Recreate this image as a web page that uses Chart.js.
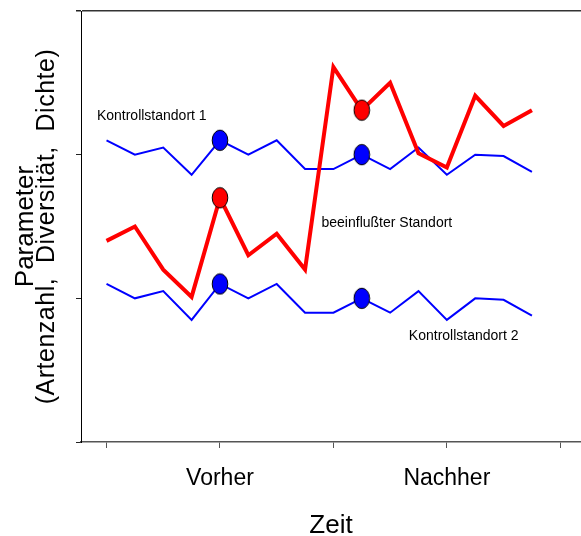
<!DOCTYPE html>
<html>
<head>
<meta charset="utf-8">
<script src="https://cdn.jsdelivr.net/npm/chart.js@4.4.1/dist/chart.umd.min.js"></script>
<style>
    body { margin: 0; background: #fff; }
    #wrap { width: 581px; height: 536px; position: relative; }
</style>
</head>
<body>
<div id="wrap"><canvas id="zeitChart"></canvas></div>
<script>
// Probenahmezeitpunkte (x) und Messwerte je Standort
const samples = [0, 1, 2, 3, 4, 5, 6, 7, 8, 9, 10, 11, 12, 13, 14, 15];
const kontroll1 = [2.10, 2.00, 2.05, 1.86, 2.10, 2.00, 2.10, 1.90, 1.90, 2.00, 1.90, 2.05, 1.86, 2.00, 1.99, 1.88];
const kontroll2 = [1.10, 1.00, 1.05, 0.85, 1.10, 1.00, 1.10, 0.90, 0.90, 1.00, 0.90, 1.05, 0.85, 1.00, 0.99, 0.88];
const beeinflusst = [1.40, 1.50, 1.20, 1.01, 1.70, 1.30, 1.45, 1.20, 2.61, 2.31, 2.50, 2.01, 1.91, 2.41, 2.20, 2.31];
const markerIndex = [4, 9];

const tickPositions = [0, 4, 8, 12, 16];
const tickLabels = ['', 'Vorher', '', 'Nachher', ''];

// Beschriftungen der Linien (in Datenkoordinaten: linker Rand, Mitte)
const lineLabels = [
    { text: 'Kontrollstandort 1', x: -0.34, y: 2.27 },
    { text: 'beeinflußter Standort', x: 7.58, y: 1.52 },
    { text: 'Kontrollstandort 2', x: 10.66, y: 0.74 }
];

const FONT = '"Liberation Sans", Arial, sans-serif';

function toPoints(values) {
    return samples.map((s, i) => ({ x: s, y: values[i] }));
}

// ellipse marker as a small canvas
function makeMarker(fill) {
    const c = document.createElement('canvas');
    c.width = 18;
    c.height = 23;
    const g = c.getContext('2d');
    g.beginPath();
    g.ellipse(9, 11.5, 7.8, 10.2, 0, 0, Math.PI * 2);
    g.fillStyle = fill;
    g.fill();
    g.lineWidth = 1;
    g.strokeStyle = '#000';
    g.stroke();
    return c;
}

const blueMarker = makeMarker('#0000ff');
const redMarker = makeMarker('#ff0000');

function markerRadius(ctx) {
    return markerIndex.includes(ctx.dataIndex) ? 8 : 0;
}

const labelPlugin = {
    id: 'labelPlugin',
    afterDatasetsDraw(chart) {
        const ctx = chart.ctx;
        const xs = chart.scales.x;
        const ys = chart.scales.y;
        ctx.save();
        ctx.fillStyle = '#000';
        ctx.font = '14px ' + FONT;
        ctx.textAlign = 'left';
        ctx.textBaseline = 'middle';
        lineLabels.forEach(l => {
            ctx.fillText(l.text, xs.getPixelForValue(l.x), ys.getPixelForValue(l.y));
        });

        // y-axis title, two lines
        const midY = (chart.chartArea.top + chart.chartArea.bottom) / 2;
        ctx.textAlign = 'center';
        ctx.textBaseline = 'alphabetic';
        ctx.translate(33, midY);
        ctx.rotate(-Math.PI / 2);
        ctx.font = '26px ' + FONT;
        ctx.fillText('Parameter', 0, 0);
        ctx.font = '25px ' + FONT;
        ctx.letterSpacing = '0.5px';
        ctx.fillText('(Artenzahl,  Diversität,  Dichte)', 0, 20.5);
        ctx.restore();
    }
};

const chartCtx = document.getElementById('zeitChart').getContext('2d');
new Chart(chartCtx, {
    type: 'line',
    data: {
        datasets: [
            {
                label: 'beeinflußter Standort',
                data: toPoints(beeinflusst),
                borderColor: '#ff0000',
                borderWidth: 4,
                pointStyle: redMarker,
                pointRadius: markerRadius,
                pointHoverRadius: markerRadius,
                tension: 0
            },
            {
                label: 'Kontrollstandort 1',
                data: toPoints(kontroll1),
                borderColor: '#0000ff',
                borderWidth: 2,
                pointStyle: blueMarker,
                pointRadius: markerRadius,
                pointHoverRadius: markerRadius,
                tension: 0
            },
            {
                label: 'Kontrollstandort 2',
                data: toPoints(kontroll2),
                borderColor: '#0000ff',
                borderWidth: 2,
                pointStyle: blueMarker,
                pointRadius: markerRadius,
                pointHoverRadius: markerRadius,
                tension: 0
            }
        ]
    },
    options: {
        responsive: true,
        maintainAspectRatio: false,
        animation: false,
        layout: {
            padding: { left: 76, top: 11, right: 0, bottom: 0 }
        },
        plugins: {
            legend: { display: false },
            tooltip: { enabled: false }
        },
        scales: {
            x: {
                type: 'linear',
                min: -0.9,
                max: 16.73,
                afterBuildTicks: scale => {
                    scale.ticks = tickPositions.map(v => ({ value: v }));
                },
                afterFit: scale => { scale.height = 94; },
                ticks: {
                    callback: value => tickLabels[tickPositions.indexOf(value)] || '',
                    color: '#000',
                    padding: 17,
                    maxRotation: 0,
                    autoSkip: false,
                    font: { family: FONT, size: 23, lineHeight: 1.2 }
                },
                grid: {
                    drawOnChartArea: false,
                    tickLength: 6,
                    tickColor: '#555',
                    tickWidth: 1
                },
                border: { color: '#555', width: 1.5 },
                title: {
                    display: true,
                    text: 'Zeit',
                    color: '#000',
                    padding: 0,
                    font: { family: FONT, size: 26, lineHeight: 0.75 }
                }
            },
            y: {
                min: 0,
                max: 3,
                afterFit: scale => { scale.width = 5; },
                ticks: { stepSize: 1, display: false },
                grid: {
                    drawOnChartArea: true,
                    color: ctx => (ctx.tick && ctx.tick.value === 3 ? '#333' : 'rgba(0,0,0,0)'),
                    lineWidth: ctx => (ctx.tick && ctx.tick.value === 3 ? 1.5 : 1),
                    tickLength: 5,
                    tickColor: '#222'
                },
                border: { color: '#000', width: 1 }
            }
        }
    },
    plugins: [labelPlugin]
});
</script>
</body>
</html>
